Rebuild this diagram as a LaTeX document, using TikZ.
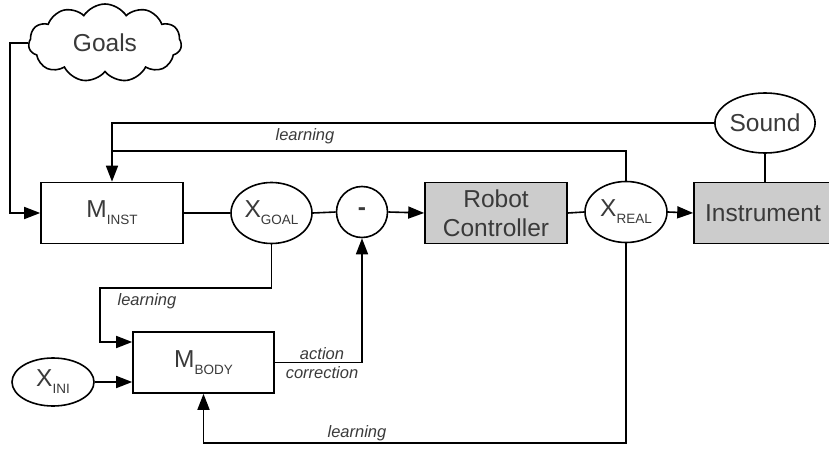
\documentclass[tikz,border=0pt]{standalone}
\usepackage{fontspec}
\setmainfont{Liberation Sans}
\usetikzlibrary{shapes.geometric,shapes.symbols,arrows.meta}
\definecolor{txt}{HTML}{3A3A3A}
\definecolor{boxgray}{HTML}{CCCCCC}
\newcommand\subtxt[1]{\raisebox{-7pt}{\fontsize{13.5}{14}\selectfont #1}}

\begin{document}
\begin{tikzpicture}[x=1pt,y=-1pt,line width=1.6pt,
  every node/.style={text=txt,font=\fontsize{24.5}{27}\selectfont,inner sep=0pt},
  blk/.style={draw,rectangle,minimum width=#1,minimum height=61pt},
  gblk/.style={blk=#1,fill=boxgray},
  oval/.style={draw,ellipse,fill=white},
  lbl/.style={font=\fontsize{16.5}{18}\selectfont\itshape},
  arr/.style={-{Triangle[length=16pt,width=12pt]}}]
\useasboundingbox (0,0) rectangle (829,449);

% blocks
\node[blk=142pt] (minst) at (112,213) {M\subtxt{INST}};
\node[gblk=142pt,align=center,font=\fontsize{24.5}{29}\selectfont] (rc) at (496,213) {Robot\\Controller};
\node[gblk=152pt] (instr) at (770,213) {\hspace*{-14pt}Instrument};
\node[blk=141pt] (mbody) at (203.5,362.5) {M\subtxt{BODY}};

% ovals
\node[oval,minimum width=81pt,minimum height=61pt] (xgoal) at (271.5,213) {X\subtxt{GOAL}};
\node[oval,circle,minimum size=51pt] (minus) at (362,212) {\textbf{-}};
\node[oval,minimum width=82pt,minimum height=61pt] (xreal) at (626,212) {X\subtxt{REAL}};
\node[oval,minimum width=92pt,minimum height=60pt] (sound) at (765,123) {Sound};
\node[oval,minimum width=82pt,minimum height=48pt] (xini) at (53,382) {X\subtxt{INI}};
\node[draw,cloud,cloud puffs=11,cloud puff arc=115,aspect=2.1,
      minimum width=153pt,minimum height=78pt] (goals) at (105,43) {Goals};

% joints of the learning paths
\coordinate (jtop) at (112,151);

% connectors
\draw[arr] (goals.west) -| (10,213) -- (minst.west);
\draw (sound.west) -| (jtop);
\draw[arr] (xreal.north) |- (jtop) -- (minst.north);
\draw (minst.east) -- (xgoal.west);
\draw (xgoal.east) -- (minus.west);
\draw[arr] (minus.east) -- (rc.west);
\draw (rc.east) -- (xreal.west);
\draw[arr] (xreal.east) -- (instr.west);
\draw (sound.south) -- (sound.south |- instr.north);
\draw[arr] (xgoal.south) |- (100,288) |- ([yshift=20.5pt]mbody.west);
\draw[arr] (xini.east) -- (xini.east -| mbody.west);
\draw[arr] (mbody.east) -| (minus.south);
\draw[arr] (xreal.south) -- (626,443) -| (mbody.south);

% labels
\node[lbl] (l1) at (305,136) {learning};
\node[lbl] (l2) at (147,301) {learning};
\node[lbl] (l3) at (322,354) {action};
\node[lbl] (l4) at (322,373) {correction};
\node[lbl] (l5) at (357,433) {learning};
\end{tikzpicture}
\end{document}
